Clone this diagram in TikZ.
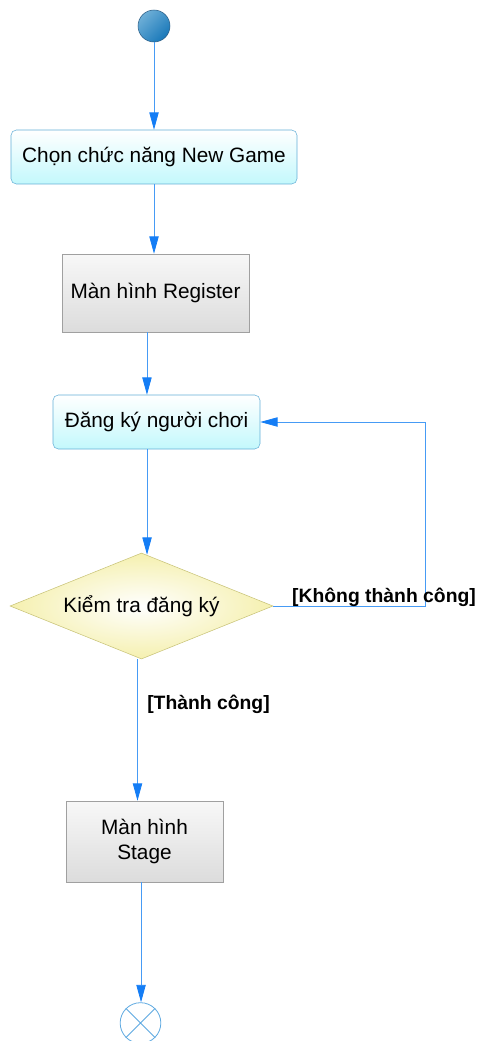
\documentclass[tikz,border=0pt]{standalone}
\usepackage{fontspec}
\setmainfont{Liberation Sans}
\usepackage{xcolor}
\usepackage{tikz}
\usetikzlibrary{arrows.meta,shapes.geometric,calc}

\definecolor{flowblue}{RGB}{70,155,245}
\definecolor{tipblue}{RGB}{20,125,245}
\definecolor{actborder}{RGB}{100,175,215}
\definecolor{actfill}{RGB}{195,248,252}
\definecolor{scrborder}{RGB}{160,160,160}
\definecolor{scrfill}{RGB}{220,220,220}
\definecolor{decborder}{RGB}{200,195,120}
\definecolor{decfill}{RGB}{245,240,175}
\definecolor{endblue}{RGB}{95,170,225}
\definecolor{startlight}{RGB}{110,175,215}
\definecolor{startdark}{RGB}{25,120,185}
\definecolor{startborder}{RGB}{45,95,135}

\begin{document}
\begin{tikzpicture}[
				x=0.75pt, y=-0.75pt,
				font=\fontsize{15.6}{19}\selectfont,
				action/.style={
					rectangle, rounded corners=4pt,
					draw=actborder, top color=white, bottom color=actfill,
					align=center, inner sep=0pt
				},
				screen/.style={
					rectangle,
					draw=scrborder, top color=white!97!black, bottom color=scrfill,
					align=center, inner sep=0pt
				},
				decision/.style={
					diamond, aspect=2.48,
					draw=decborder, inner color=white, outer color=decfill,
					minimum width=197.25pt, minimum height=79.5pt,
					align=center, inner sep=0pt
				},
				startnode/.style={
					circle, minimum size=24pt, inner sep=0pt,
					draw=startborder, left color=startlight, right color=startdark,
					shading angle=45
				},
				endnode/.style={
					circle, minimum size=30.5pt, inner sep=0pt,
					draw=endblue, semithick, fill=white
				},
				arr/.style={-{Triangle[length=13pt,width=7pt,color=tipblue]}, line width=0.6pt, flowblue},
				guard/.style={font=\fontsize{14.5}{17}\selectfont\bfseries, inner sep=0pt}
				]
				\useasboundingbox (0,0) rectangle (480,1041);
				
				\node[startnode] (start) at (154,26) {};
				\node[action, minimum width=214.5pt, minimum height=40.5pt] (chon) at (154,157) {Chọn chức năng New Game};
				\draw[arr] (start) -- (chon);
				
				\node[screen, minimum width=140.25pt, minimum height=58.5pt] (reg) at (155.5,293) {Màn hình Register};
				\draw[arr] (chon.south) -- (chon.south |- reg.north);
				
				\node[action, minimum width=155.25pt, minimum height=40.5pt] (dang) at (156.5,422) {Đăng ký người chơi};
				\draw[arr] ([xshift=-6.4pt]reg.south) -- ([xshift=-6.4pt]reg.south |- dang.north);
				
				\node[decision] (kiem) at (141.5,606) {Kiểm tra đăng ký};
				\draw[arr] ([xshift=-7.1pt]dang.south) -- ([xshift=-7.1pt,yshift=-1.5pt]dang.south |- kiem.north);
				
				% loop back when the check fails
				\draw[arr] (kiem.east) -- ++(152,0) |- (dang.east);
				\node[guard] (khong) at (384,597) {[Không thành công]};
				
				\node[screen, minimum width=117.75pt, minimum height=60.75pt] (stage) at (144.5,841.5) {Màn hình\\Stage};
				\draw[arr] ([xshift=-3pt]kiem.south) -- ([xshift=-3pt]kiem.south |- stage.north);
				\node[guard] (thanh) at (208.5,704) {[Thành công]};
				
				\node[endnode] (fin) at (140.5,1023) {};
				\draw[endblue, semithick] (fin.north west) -- (fin.south east) (fin.north east) -- (fin.south west);
				\draw[arr] ([xshift=-2.6pt]stage.south) -- ([xshift=-2.6pt]stage.south |- fin.north);
		\end{tikzpicture}
\end{document}
